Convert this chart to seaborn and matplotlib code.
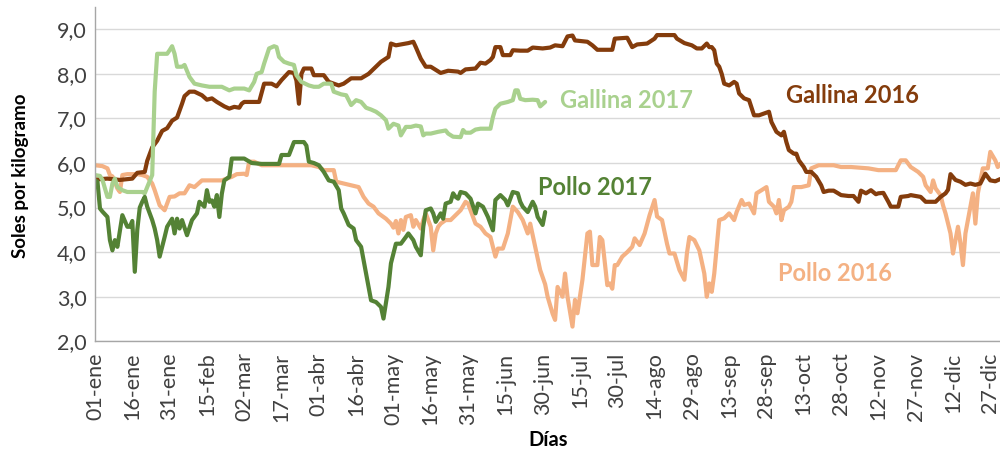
import pandas as pd
import matplotlib
matplotlib.use("Agg")
import matplotlib.pyplot as plt
import seaborn as sns

# Día del año (0 = 01-ene) y precio en soles por kilogramo
g16_dias = [0, 5, 10, 15, 17, 20, 21, 23, 25, 27, 29, 31, 33, 35, 36, 38, 40, 43, 45, 47, 49, 52, 54, 56, 58, 59,
            60, 66, 68, 71, 73, 75, 78, 80, 81, 82, 83, 84, 87, 88, 92, 94, 98, 100, 103, 107, 110, 113, 115, 118, 119,
            121, 123, 126, 128, 129, 131, 133, 135, 137, 139, 142, 146, 147, 149, 153, 155, 157, 159, 160, 161, 163,
            164, 167, 168, 171, 174, 176, 180, 183, 185, 188, 190, 192, 193, 198, 200, 202, 208, 209, 214, 216, 218,
            222, 225, 226, 233, 234, 237, 240, 242, 244, 246, 247, 248, 249, 250, 251, 252, 253, 255, 257, 258, 259,
            261, 263, 265, 267, 269, 271, 272, 274, 276, 277, 278, 279, 281, 282, 283, 285, 286, 288, 290, 292, 293,
            295, 297, 300, 303, 305, 307, 308, 310, 312, 314, 315, 317, 319, 320, 323, 324, 327, 328, 332, 334, 338,
            340, 342, 343, 344, 346, 348, 350, 352, 354, 356, 358, 360, 362, 364]
g16_val = [5.63, 5.65, 5.62, 5.65, 5.78, 5.80, 6.05, 6.35, 6.50, 6.72, 6.78, 6.95, 7.02, 7.33, 7.50, 7.60, 7.60, 7.52,
           7.42, 7.45, 7.37, 7.27, 7.22, 7.26, 7.24, 7.33,
           7.37, 7.37, 7.78, 7.78, 7.72, 7.86, 8.04, 8.02, 7.85, 7.33, 8.00, 8.12, 8.12, 7.97, 7.97, 7.82, 7.74, 7.78,
           7.90, 7.90, 8.00, 8.16, 8.27, 8.38, 8.68,
           8.64, 8.66, 8.69, 8.72, 8.60, 8.34, 8.16, 8.16, 8.09, 8.02, 8.07, 8.05, 8.02, 8.10, 8.12, 8.25, 8.23, 8.31,
           8.38, 8.60, 8.60, 8.42, 8.42, 8.53, 8.52, 8.52, 8.59, 8.57, 8.59, 8.64, 8.62, 8.84, 8.86, 8.75, 8.72, 8.64,
           8.54, 8.54, 8.79, 8.81, 8.60, 8.66, 8.68, 8.79, 8.87, 8.87, 8.79, 8.69, 8.64, 8.57, 8.57, 8.68, 8.60, 8.60,
           8.53, 8.23, 8.16, 8.00, 7.78, 7.74, 7.82, 7.78, 7.56, 7.45, 7.41, 7.07, 7.07, 7.11, 7.15, 6.92, 6.70, 6.62,
           6.70, 6.47, 6.29, 6.21, 6.21, 6.06, 5.91, 5.80, 5.80, 5.69, 5.50, 5.35, 5.38, 5.38, 5.28, 5.26, 5.26, 5.13,
           5.38, 5.32, 5.39, 5.30, 5.32, 5.33, 5.13, 5.02, 5.02, 5.24, 5.26, 5.28, 5.24, 5.13, 5.13, 5.24, 5.32, 5.40,
           5.75, 5.62, 5.58, 5.51, 5.54, 5.51, 5.54, 5.76, 5.61, 5.59, 5.64]

p16_dias = [0, 3, 5, 6, 7, 9, 10, 11, 13, 15, 17, 19, 21, 23, 24, 26, 28, 30, 32, 34, 36, 38, 40, 43, 46, 48, 51, 53,
            55, 57, 60, 61, 62, 64, 67, 74, 80, 87, 90, 92, 96, 97, 100, 103, 106, 108, 110, 112, 114, 117, 119, 120,
            121, 122, 123, 124, 125, 127, 128, 129, 131, 132, 133, 135, 136, 137, 138, 139, 141, 143, 145, 147, 149,
            150, 151, 153, 155, 157, 159, 161, 162, 164, 166, 168, 170, 172, 174, 175, 177, 179, 181, 182, 184, 185,
            186, 188, 189, 190, 192, 193, 194, 196, 198, 199, 200, 202, 203, 204, 206, 207, 208, 209, 210, 212, 214,
            216, 217, 219, 221, 223, 225, 226, 228, 230, 231, 233, 235, 237, 238, 239, 241, 243, 245, 246, 247, 248,
            249, 251, 253, 255, 257, 258, 260, 261, 263, 265, 266, 268, 270, 271, 273, 274, 275, 276, 277, 279, 280,
            281, 284, 287, 288, 291, 297, 300, 304, 311, 315, 322, 324, 326, 328, 331, 333, 334, 336, 337, 338, 340,
            341, 342, 344, 345, 346, 347, 348, 349, 350, 352, 353, 354, 355, 357, 359, 360, 362, 363, 364]
p16_val = [5.95, 5.93, 5.88, 5.73, 5.70, 5.43, 5.35, 5.73, 5.75, 5.75, 5.75, 5.73, 5.69, 5.54, 5.39, 5.05, 4.94, 5.24,
           5.25, 5.32, 5.32, 5.50, 5.46, 5.61, 5.61, 5.61, 5.61, 5.65, 5.69, 5.75, 5.76, 5.73, 6.03, 6.03, 5.95, 5.95,
           5.95, 5.95, 5.91, 5.84, 5.84, 5.58, 5.54, 5.50, 5.46, 5.24, 5.09, 5.02, 4.87, 4.75, 4.64, 4.55, 4.70, 4.42,
           4.72, 4.50, 4.79, 4.83, 4.57, 4.72, 4.53, 4.72, 4.87, 4.57, 4.04, 4.42, 4.57, 4.64, 4.72, 4.72, 4.83, 4.94,
           5.13, 5.09, 4.94, 4.64, 4.57, 4.42, 4.34, 3.90, 4.08, 4.08, 4.42, 5.02, 4.90, 4.72, 4.42, 4.64, 4.12, 3.60,
           3.28, 3.00, 2.62, 2.48, 3.22, 3.00, 3.52, 3.00, 2.33, 2.93, 2.63, 3.38, 4.42, 4.46, 3.71, 3.71, 4.34, 4.27,
           3.26, 3.30, 3.18, 3.71, 3.71, 3.90, 4.00, 4.12, 4.31, 4.16, 4.42, 4.83, 5.17, 4.80, 4.72, 4.19, 3.97, 3.97,
           3.60, 3.38, 3.97, 4.34, 4.27, 4.04, 3.52, 3.00, 3.30, 3.11, 3.52, 4.72, 4.76, 4.87, 4.72, 4.90, 5.17, 5.06,
           5.09, 4.87, 5.32, 5.39, 5.46, 5.13, 5.02, 4.87, 5.17, 4.72, 4.94, 5.02, 5.13, 5.46, 5.46, 5.50, 5.88, 5.95,
           5.95, 5.91, 5.91, 5.88, 5.84, 5.84, 6.06, 6.06, 5.91, 5.80, 5.69, 5.50, 5.35, 5.61, 5.43, 5.28, 5.05, 4.87,
           4.42, 3.97, 4.27, 4.57, 4.20, 3.71, 4.42, 5.02, 5.32, 4.64, 5.32, 5.88, 5.88, 6.25, 6.06, 5.91, 5.98]

g17_dias = [0, 2, 3, 5, 6, 7, 8, 9, 11, 13, 15, 17, 19, 20, 21, 23, 24, 25, 27, 29, 30, 31, 32, 33, 35, 36, 38, 40, 43,
            46, 51, 54, 56, 60, 62, 64, 65, 67, 68, 70, 72, 73, 74, 76, 78, 80, 81, 83, 86, 88, 90, 92, 95, 96, 99, 101,
            103, 105, 107, 109, 111, 113, 115, 117, 118, 120, 122, 123, 125, 127, 129, 131, 132, 133, 135, 138, 141,
            142, 144, 147, 148, 149, 151, 153, 155, 159, 160, 161, 163, 166, 168, 169, 170, 171, 173, 176, 178, 179, 181]
g17_val = [5.73, 5.71, 5.62, 5.24, 5.24, 5.54, 5.65, 5.46, 5.39, 5.35, 5.35, 5.35, 5.35, 5.32, 5.46, 5.73, 7.60, 8.45,
           8.45, 8.45, 8.53, 8.62, 8.45, 8.16, 8.16, 8.20, 7.93, 7.78, 7.74, 7.71, 7.71, 7.63, 7.67, 7.67, 7.63, 7.82,
           8.00, 8.04, 8.23, 8.57, 8.62, 8.60, 8.38, 8.27, 8.23, 8.20, 7.97, 7.82, 7.74, 7.71, 7.71, 7.78, 7.78, 7.60,
           7.54, 7.52, 7.30, 7.41, 7.37, 7.24, 7.20, 7.15, 7.07, 6.96, 6.77, 6.88, 6.84, 6.62, 6.81, 6.81, 6.84, 6.82,
           6.62, 6.66, 6.66, 6.70, 6.73, 6.66, 6.59, 6.58, 6.74, 6.68, 6.68, 6.75, 6.77, 6.77, 7.03, 7.22, 7.33, 7.37,
           7.41, 7.63, 7.63, 7.44, 7.41, 7.42, 7.41, 7.27, 7.37]

p17_dias = [0, 1, 2, 3, 5, 6, 7, 8, 9, 11, 13, 14, 15, 16, 17, 18, 19, 20, 21, 23, 24, 25, 26, 28, 29, 31, 32, 33, 34,
            35, 37, 39, 41, 42, 44, 45, 46, 47, 48, 49, 50, 51, 52, 54, 55, 58, 60, 63, 67, 74, 75, 78, 80, 84, 85, 86,
            88, 90, 92, 94, 96, 98, 99, 100, 102, 104, 105, 107, 109, 111, 113, 115, 116, 118, 119, 121, 123, 125, 126,
            128, 129, 131, 132, 133, 135, 136, 137, 139, 140, 141, 143, 144, 145, 146, 147, 149, 151, 153, 154, 156,
            158, 160, 161, 163, 165, 166, 168, 170, 171, 172, 174, 176, 177, 178, 180, 181]
p17_val = [5.61, 5.58, 4.98, 4.91, 4.79, 4.27, 4.04, 4.27, 4.12, 4.83, 4.57, 4.57, 4.70, 3.56, 4.50, 5.00, 5.13, 5.24,
           5.02, 4.72, 4.53, 4.27, 3.90, 4.34, 4.57, 4.75, 4.42, 4.75, 4.53, 4.72, 4.38, 4.72, 4.87, 5.13, 5.02, 5.39,
           5.13, 5.16, 5.02, 5.28, 4.79, 5.31, 5.61, 5.69, 6.10, 6.10, 6.10, 6.00, 5.98, 5.98, 6.18, 6.18, 6.47, 6.47,
           6.39, 6.03, 6.00, 5.95, 5.80, 5.61, 5.58, 5.39, 4.98, 4.87, 4.61, 4.53, 4.27, 4.12, 3.52, 2.92, 2.88, 2.77,
           2.51, 3.22, 3.75, 4.19, 4.19, 4.34, 4.42, 4.27, 4.12, 3.93, 4.57, 4.94, 4.98, 4.87, 4.68, 4.87, 4.75, 5.09,
           5.13, 5.32, 5.24, 5.20, 5.35, 5.32, 5.20, 4.87, 5.09, 5.02, 4.79, 4.49, 5.17, 5.28, 5.17, 5.05, 5.35, 5.32,
           5.13, 5.02, 4.90, 5.13, 5.02, 4.79, 4.61, 4.90]

series = ["Pollo 2016", "Gallina 2016", "Gallina 2017", "Pollo 2017"]
colores = ["#F4B183", "#843C0C", "#A9D18E", "#548235"]

tick_dias = list(range(0, 362, 15))
tick_labels = ["01-ene", "16-ene", "31-ene", "15-feb", "02-mar", "17-mar", "01-abr", "16-abr", "01-may",
               "16-may", "31-may", "15-jun", "30-jun", "15-jul", "30-jul", "14-ago", "29-ago", "13-sep",
               "28-sep", "13-oct", "28-oct", "12-nov", "27-nov", "12-dic", "27-dic"]

# Tabla larga para seaborn
df = pd.concat([
    pd.DataFrame({"dia": p16_dias, "precio": p16_val, "serie": "Pollo 2016"}),
    pd.DataFrame({"dia": g16_dias, "precio": g16_val, "serie": "Gallina 2016"}),
    pd.DataFrame({"dia": g17_dias, "precio": g17_val, "serie": "Gallina 2017"}),
    pd.DataFrame({"dia": p17_dias, "precio": p17_val, "serie": "Pollo 2017"}),
], ignore_index=True)

sns.set_theme(style="white")
plt.rcParams["font.family"] = ["Lato", "DejaVu Sans"]

fig = plt.figure(figsize=(10, 4.54), dpi=100)
ax = fig.add_axes([0.095, 0.2482, 0.905, 0.7364])

sns.lineplot(data=df, x="dia", y="precio", hue="serie", hue_order=series,
             palette=dict(zip(series, colores)), estimator=None, sort=False,
             linewidth=3.0, legend=False, ax=ax)

ax.set_xlim(0, 363.9)
ax.set_ylim(2, 9.5)
ax.set_yticks([2, 3, 4, 5, 6, 7, 8, 9])
ax.set_yticklabels([f"{v:.1f}".replace(".", ",") for v in range(2, 10)])
ax.set_xticks(tick_dias)
ax.set_xticklabels(tick_labels, rotation=90)
ax.grid(axis="y", color="#D9D9D9", linewidth=1)
ax.set_axisbelow(True)
ax.set_xlabel("")
ax.set_ylabel("")

for s in ["top", "right"]:
    ax.spines[s].set_visible(False)
for s in ["left", "bottom"]:
    ax.spines[s].set_color("#A6A6A6")
    ax.spines[s].set_linewidth(1)
ax.tick_params(axis="x", direction="out", length=5, color="#A6A6A6", labelsize=15.5,
               labelcolor="#404040", pad=3)
ax.tick_params(axis="y", length=0, labelsize=15.5, labelcolor="#404040", pad=6)

fig.text(0.021, 0.612, "Soles por kilogramo", rotation=90, ha="center", va="center",
         fontsize=13.5, fontweight="bold", color="black")
fig.text(0.548, 0.031, "Días", ha="center", va="center", fontsize=14.5, fontweight="bold", color="black")

# Etiquetas de las series
etiquetas = [("Gallina 2017", 213.5, 7.41), ("Gallina 2016", 304.4, 7.52),
             ("Pollo 2017", 201, 5.44), ("Pollo 2016", 297.5, 3.53)]
for nombre, x, y in etiquetas:
    ax.text(x, y, nombre, ha="center", va="center", fontsize=17, fontweight="bold",
            color=colores[series.index(nombre)])

plt.savefig("out.png", dpi=100)
